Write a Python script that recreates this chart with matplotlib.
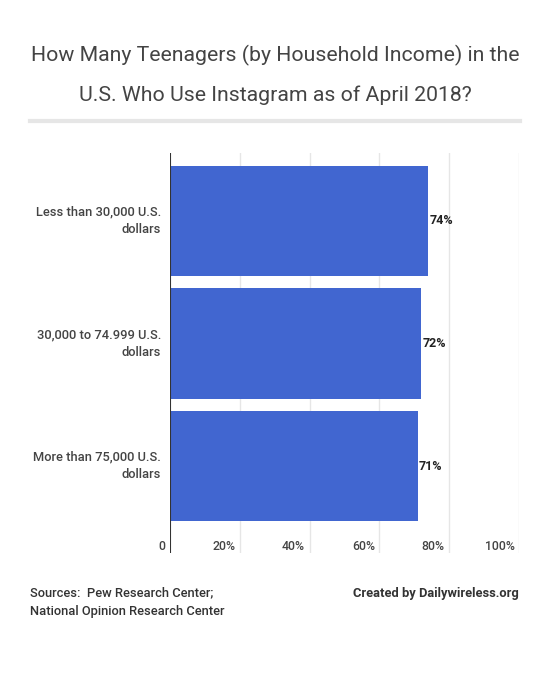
import numpy as np
import matplotlib.pyplot as plt
import matplotlib.transforms as mtransforms

plt.rcParams['font.family'] = ['Roboto', 'DejaVu Sans']

categories = ['Less than 30,000 U.S.\ndollars', '30,000 to 74.999 U.S.\ndollars',
              'More than 75,000 U.S.\ndollars']
values = [74, 72, 71]
xticks = [0, 20, 40, 60, 80, 100]
xtick_labels = ['0', '20%', '40%', '60%', '80%', '100%']

fig = plt.figure(figsize=(5.5, 6.83), dpi=100)
W, H = 550, 683

# title and separator
fig.text(275 / W, 1 - 55 / H, 'How Many Teenagers (by Household Income) in the',
         ha='center', va='center', fontsize=15.3, color='#444444')
fig.text(275 / W, 1 - 95 / H, 'U.S. Who Use Instagram as of April 2018?',
         ha='center', va='center', fontsize=15.3, color='#444444')
fig.add_artist(plt.Line2D([30 / W, 520 / W], [1 - 121 / H, 1 - 121 / H],
                          color='#e6e6e6', lw=3))

ax = fig.add_axes([170 / W, 1 - 553 / H, 349 / W, 400 / H])
y = np.arange(len(categories))
ax.barh(y, values, height=0.9, color='#4166d0', zorder=2)
ax.set_xlim(0, 100)
ax.set_ylim(2.71, -0.555)

for x in xticks[1:]:
    ax.axvline(x, color='#e6e6e6', lw=1, zorder=1)
ax.axvline(0, color='#333333', lw=1.5, zorder=3)

for s in ax.spines.values():
    s.set_visible(False)
ax.set_xticks([])
ax.set_yticks([])

for i, v in enumerate(values):
    ax.text(v + 0.3, i, f'{v}%', va='center', ha='left', fontsize=9,
            fontweight='bold', color='#222222')

for i, c in enumerate(categories):
    ax.text(-2.6, i, c, va='center', ha='right', fontsize=9.3, color='#444444',
            fontweight='medium', linespacing=1.45)

trans = mtransforms.blended_transform_factory(ax.transData, fig.transFigure)
for x, lab in zip(xticks, xtick_labels):
    ax.text(x - 1.3, 1 - 546 / H, lab, transform=trans, ha='right', va='center',
            fontsize=8.8, color='#444444', fontweight='medium')

# footer
fig.text(30 / W, 1 - 593 / H, 'Sources:  Pew Research Center;', ha='left', va='center',
         fontsize=9.3, color='#333333', fontweight='medium')
fig.text(30 / W, 1 - 612 / H, 'National Opinion Research Center', ha='left', va='center',
         fontsize=9.3, color='#333333', fontweight='medium')
fig.text(519 / W, 1 - 593 / H, 'Created by Dailywireless.org', ha='right', va='center',
         fontsize=9.3, color='#333333', fontweight='bold')

fig.savefig('out.png', dpi=100, facecolor='white')
